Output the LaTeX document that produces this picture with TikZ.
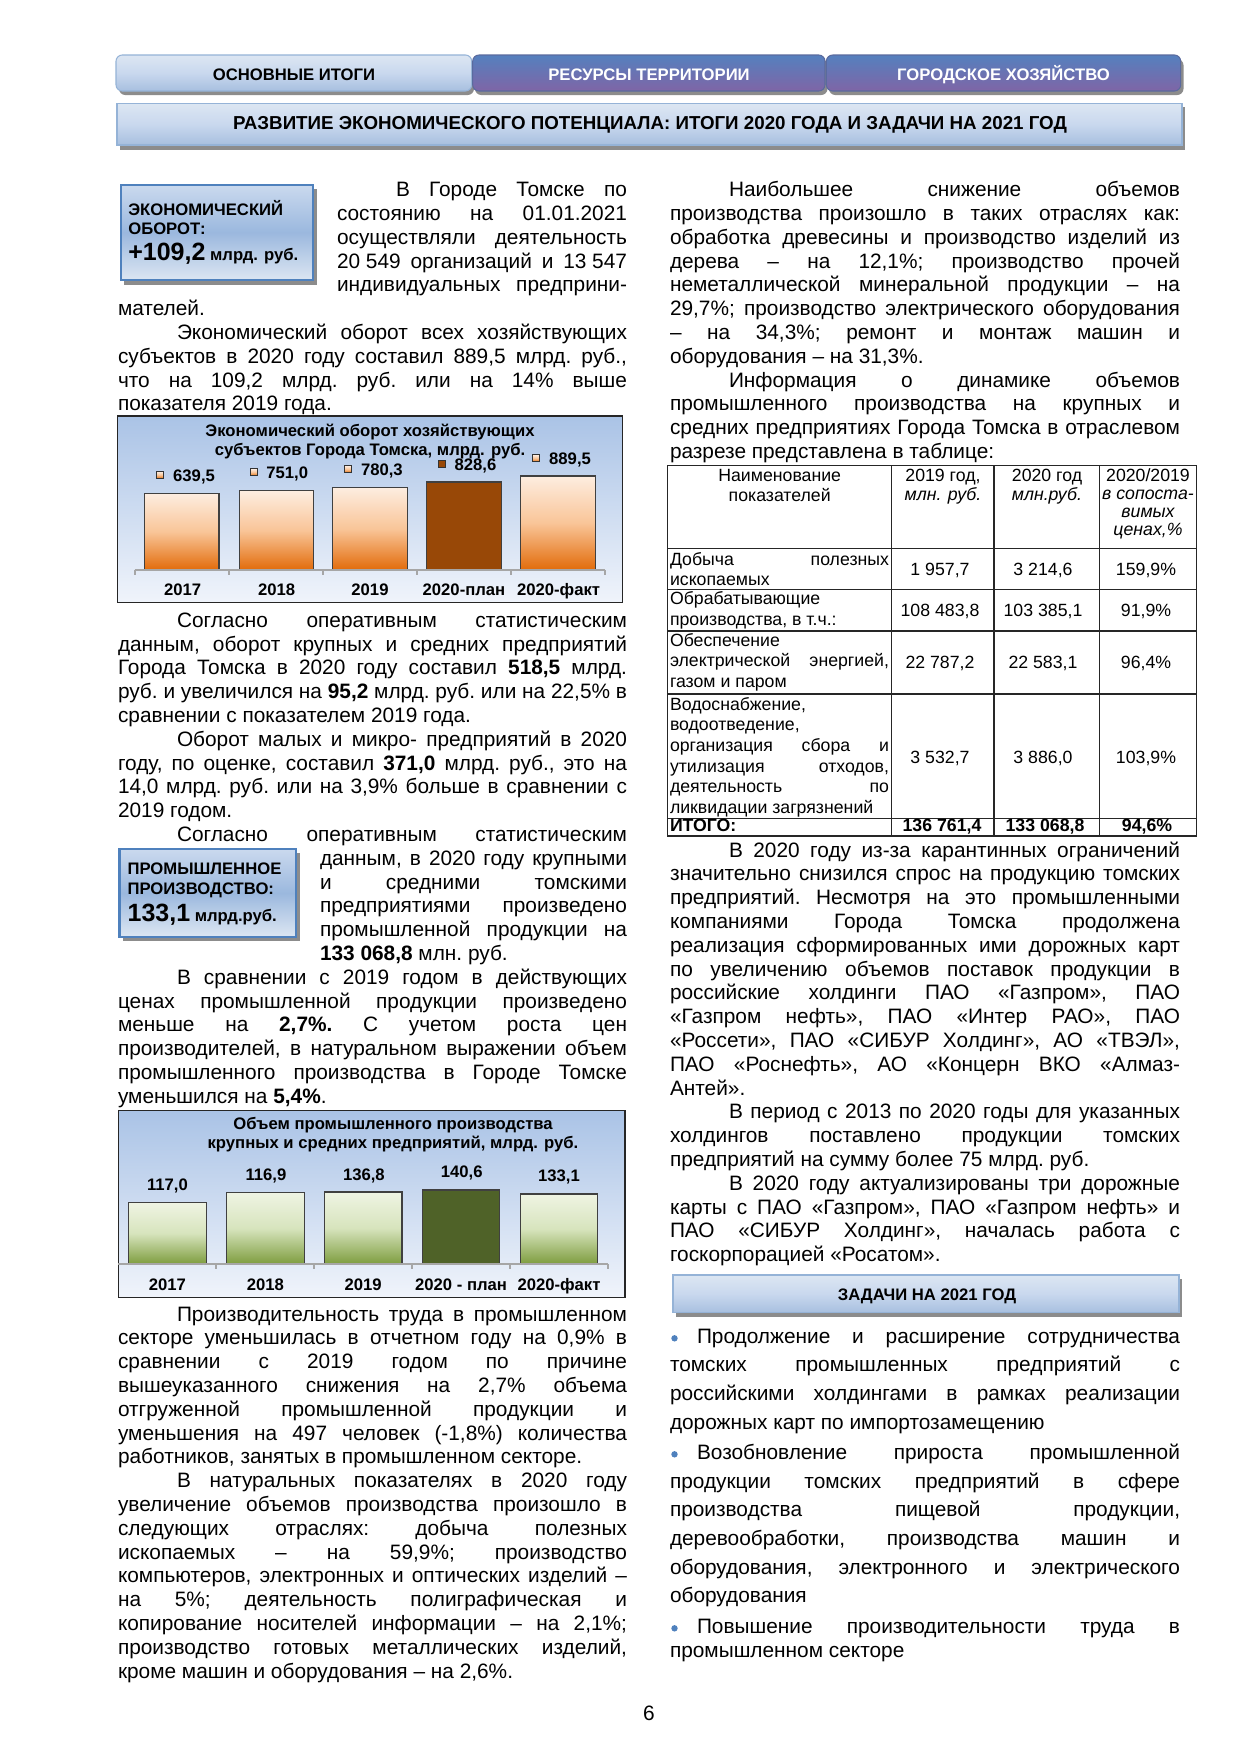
\documentclass[tikz,border=0pt]{standalone}
\usepackage{fontspec}
\setmainfont{Liberation Sans}
\newdimen\pxu \pxu=0.48pt
\newcommand\jline[1]{\hbox to\hsize{#1}}
\newcommand\eline[1]{\hbox to\hsize{#1\hfil}}
\newcommand\iline[1]{\hbox to\hsize{\hskip59\pxu\relax #1}}
\newcommand\ojline[2]{\hbox to\hsize{\hskip#1\pxu\relax #2}}
\newcommand\oeline[2]{\hbox to\hsize{\hskip#1\pxu\relax #2\hfil}}
\newcommand\tblock[3][23.8]{\vtop{\hsize=#2\pxu\relax\fontsize{10}{11.4}\selectfont\baselineskip=#1\pxu\relax\lineskiplimit=-\maxdimen\frenchspacing #3}}
\newcommand\cblock[2]{\vtop{\hsize=#1\pxu\relax\fontsize{8.5}{10}\selectfont\baselineskip=20.7\pxu\relax\lineskiplimit=-\maxdimen\frenchspacing #2}}
\definecolor{tabtop}{HTML}{5580BE}
\definecolor{tabbot}{HTML}{7F65A6}
\definecolor{tabedge}{HTML}{5A6A9E}
\definecolor{lbtop}{HTML}{DCE6F2}
\definecolor{lbmid}{HTML}{C9D8EE}
\definecolor{lbbot}{HTML}{A7BFDF}
\definecolor{lbedge}{HTML}{95B3D7}
\definecolor{shadowgrey}{HTML}{8C8C8C}
\definecolor{boxedge}{HTML}{4F81BD}
\definecolor{boxtop}{HTML}{CAD9EE}
\definecolor{boxmid}{HTML}{9BB8DE}
\definecolor{boxbot}{HTML}{DCE6F2}
\definecolor{chtop}{HTML}{AAC3E6}
\definecolor{chbot}{HTML}{F0F4FB}
\definecolor{ortop}{HTML}{FDEDE0}
\definecolor{ormid}{HTML}{F9C598}
\definecolor{orbot}{HTML}{E26B0A}
\definecolor{brownbar}{HTML}{984807}
\definecolor{grtop}{HTML}{EFF4E3}
\definecolor{grmid}{HTML}{D7E4BD}
\definecolor{grbot}{HTML}{7E9D3F}
\definecolor{olivebar}{HTML}{4F6228}
\definecolor{axisgrey}{HTML}{A6A6A6}
\definecolor{bulletblue}{HTML}{4F81BD}
\tikzset{
  lbl/.style={inner sep=0pt, outer sep=0pt},
  txt/.style={lbl, anchor=base west},
  chtxt/.style={lbl, anchor=base, font=\fontsize{8}{9.6}\selectfont\bfseries},
  chval/.style={lbl, anchor=base west, font=\fontsize{8}{9.6}\selectfont\bfseries},
  tabtxt/.style={lbl, anchor=base, font=\fontsize{8}{9.6}\selectfont\bfseries},
  celltxt/.style={lbl, anchor=base, font=\fontsize{8.5}{10}\selectfont},
  boxtxt/.style={lbl, anchor=base west, font=\fontsize{8}{9.6}\selectfont\bfseries},
  darktab/.style={draw=tabedge, line width=0.5pt, rounded corners=3pt, top color=tabtop, bottom color=tabbot},
  lighttab/.style={draw=lbedge, line width=0.5pt, rounded corners=3pt, top color=lbtop, bottom color=lbbot, middle color=lbmid},
  lightbar/.style={draw=lbedge, line width=0.5pt, top color=lbtop, bottom color=lbbot, middle color=lbmid},
  shadowbox/.style={fill=shadowgrey},
  infobox/.style={draw=boxedge, line width=1.1pt, top color=boxtop, bottom color=boxbot, middle color=boxmid},
  chartbg/.style={draw=black!85, line width=0.7pt, top color=chtop, bottom color=chbot},
  obar/.style={draw=black!75, line width=0.5pt, top color=ortop, bottom color=orbot, middle color=ormid},
  gbar/.style={draw=black!75, line width=0.5pt, top color=grtop, bottom color=grbot, middle color=grmid},
  omark/.style={draw=black!80, line width=0.4pt, top color=ortop, bottom color=orbot, middle color=ormid},
  axisline/.style={draw=axisgrey, line width=1pt},
  tline/.style={draw=black!85, line width=0.6pt}
}
\begin{document}
\begin{tikzpicture}[x=0.48pt,y=-0.48pt]
\path[fill=white,use as bounding box] (0,0) rectangle (1240,1754);

% ---------- tabs ----------
\path[shadowbox, rounded corners=3pt] (119,59) rectangle (474,95);
\path[shadowbox, rounded corners=3pt] (475,59) rectangle (827.5,95);
\path[shadowbox, rounded corners=3pt] (829,59) rectangle (1183.5,95);
\path[lighttab] (116,55) rectangle (471.7,91);
\path[darktab] (472.7,55) rectangle (825,91);
\path[darktab] (826.4,55) rectangle (1180.7,91);
\node[tabtxt] (tab1) at (294,80) {ОСНОВНЫЕ ИТОГИ};
\node[tabtxt, text=white] (tab2) at (649,80) {РЕСУРСЫ ТЕРРИТОРИИ};
\node[tabtxt, text=white] (tab3) at (1003.5,80) {ГОРОДСКОЕ ХОЗЯЙСТВО};

% ---------- title bar ----------
\path[shadowbox] (120,107) rectangle (1184.5,149.5);
\path[lightbar] (117,103.3) rectangle (1182,145);
\node[tabtxt, font=\fontsize{9}{10.8}\selectfont\bfseries] (title) at (650,129) {РАЗВИТИЕ ЭКОНОМИЧЕСКОГО ПОТЕНЦИАЛА: ИТОГИ 2020 ГОДА И ЗАДАЧИ НА 2021 ГОД};

% ---------- box 1 ----------
\path[shadowbox] (124,189) rectangle (316.5,284.5);
\path[infobox] (120.7,185) rectangle (312.7,280);
\node[boxtxt] (b1a) at (128.3,215) {ЭКОНОМИЧЕСКИЙ};
\node[boxtxt] (b1b) at (128.3,234.5) {ОБОРОТ:};
\node[boxtxt] (b1c) at (128.3,260.7) {{\fontsize{12}{14}\selectfont +109,2} млрд. руб.};

% ---------- left column text A ----------
\node[txt] (ta) at (118,196.7) {\tblock{509}{%
\ojline{278}{В Городе Томске по}
\ojline{219}{состоянию на 01.01.2021}
\ojline{219}{осуществляли деятельность}
\ojline{219}{\mbox{20 549} организаций и \mbox{13 547}}
\ojline{219}{индивидуальных предприни-}
\eline{мателей.}
\iline{Экономический оборот всех хозяйствующих}
\jline{субъектов в 2020 году составил 889,5 млрд. руб.,}
\jline{что на 109,2 млрд. руб. или на 14\% выше}
\eline{показателя 2019 года.}}};

% ---------- chart 1 ----------
\path[chartbg] (117.4,416) rectangle (622.5,602.7);
\node[chtxt] (c1t1) at (370,436.5) {Экономический оборот хозяйствующих};
\node[chtxt] (c1t2) at (370,455.5) {субъектов Города Томска, млрд. руб.};
\path[obar] (144.8,493.3) rectangle (219,570);
\path[obar] (239.3,490.7) rectangle (313.6,570);
\path[obar] (332.8,487.7) rectangle (407.8,570);
\path[draw=black!75, line width=0.5pt, fill=brownbar] (426.7,482) rectangle (501.6,570);
\path[obar] (520.5,476) rectangle (595.5,570);
\draw[axisline] (134.6,570) -- (605.3,570);
\foreach \tx in {134.6,228.8,322.7,416.9,510.7,605.3} \draw[axisline] (\tx,570) -- (\tx,574.5);
\path[omark] (156.5,471.5) rectangle (163.5,478.5);
\path[omark] (250.8,468.8) rectangle (257.8,475.8);
\path[omark] (344.7,465.8) rectangle (351.7,472.8);
\path[draw=black!80, line width=0.4pt, fill=brownbar] (438.6,460.5) rectangle (445.6,467.5);
\path[omark] (532.9,454.8) rectangle (539.9,461.8);
\node[chval] (v11) at (173.2,481) {639,5};
\node[chval] (v12) at (266.4,478.3) {751,0};
\node[chval] (v13) at (361,475.3) {780,3};
\node[chval] (v14) at (454.6,470) {828,6};
\node[chval] (v15) at (549.2,464.3) {889,5};
\node[chtxt] (k11) at (182.6,595) {2017};
\node[chtxt] (k12) at (276.6,595) {2018};
\node[chtxt] (k13) at (370,595) {2019};
\node[chtxt] (k14) at (464,595) {2020-план};
\node[chtxt] (k15) at (558.6,595) {2020-факт};

% ---------- left column text B ----------
\node[txt] (tb) at (118,627.3) {\tblock{509}{%
\iline{Согласно оперативным статистическим}
\jline{данным, оборот крупных и средних предприятий}
\jline{Города Томска в 2020 году составил \textbf{518,5} млрд.}
\jline{руб. и увеличился на \textbf{95,2} млрд. руб. или на 22,5\% в}
\eline{сравнении с показателем 2019 года.}
\iline{Оборот малых и микро- предприятий в 2020}
\jline{году, по оценке, составил \textbf{371,0} млрд. руб., это на}
\jline{14,0 млрд. руб. или на 3,9\% больше в сравнении с}
\eline{2019 годом.}
\iline{Согласно оперативным статистическим}
\ojline{202}{данным, в 2020 году крупными}
\ojline{202}{и средними томскими}
\ojline{202}{предприятиями произведено}
\ojline{202}{промышленной продукции на}
\oeline{202}{\textbf{133 068,8} млн. руб.}
\iline{В сравнении с 2019 годом в действующих}
\jline{ценах промышленной продукции произведено}
\jline{меньше на \textbf{2,7\%.} С учетом роста цен}
\jline{производителей, в натуральном выражении объем}
\jline{промышленного производства в Городе Томске}
\eline{уменьшился на \textbf{5,4\%}.}}};

% ---------- box 2 ----------
\path[shadowbox] (123,853.3) rectangle (299.5,941);
\path[infobox] (119.5,849.3) rectangle (295.8,936.7);
\node[boxtxt] (b2a) at (127.6,874) {ПРОМЫШЛЕННОЕ};
\node[boxtxt] (b2b) at (127.6,894) {ПРОИЗВОДСТВО:};
\node[boxtxt] (b2c) at (127.6,921.7) {{\fontsize{12}{14}\selectfont 133,1} млрд.руб.};

% ---------- chart 2 ----------
\path[chartbg] (118.4,1110.7) rectangle (625,1297.3);
\node[chtxt] (c2t1) at (393,1129.5) {Объем промышленного производства};
\node[chtxt] (c2t2) at (393,1148.5) {крупных и средних предприятий, млрд. руб.};
\path[gbar] (128.6,1202.7) rectangle (206.2,1264);
\path[gbar] (226.5,1192.7) rectangle (304.1,1264);
\path[gbar] (324.4,1192) rectangle (402,1264);
\path[draw=black!75, line width=0.5pt, fill=olivebar] (422.3,1190) rectangle (499.9,1264);
\path[gbar] (520.2,1194) rectangle (597.8,1264);
\draw[axisline] (118.4,1264) -- (608,1264);
\foreach \tx in {216.3,314.3,412.2,510.1,608} \draw[axisline] (\tx,1264) -- (\tx,1268.5);
\node[chtxt] (v21) at (167.4,1190.3) {117,0};
\node[chtxt] (v22) at (266,1180.3) {116,9};
\node[chtxt] (v23) at (363.9,1180.3) {136,8};
\node[chtxt] (v24) at (461.8,1177.7) {140,6};
\node[chtxt] (v25) at (559,1181.7) {133,1};
\node[chtxt] (k21) at (167.4,1290) {2017};
\node[chtxt] (k22) at (265.3,1290) {2018};
\node[chtxt] (k23) at (363.2,1290) {2019};
\node[chtxt] (k24) at (461.1,1290) {2020 - план};
\node[chtxt] (k25) at (559,1290) {2020-факт};

% ---------- left column text C ----------
\node[txt] (tc) at (118,1321) {\tblock{509}{%
\iline{Производительность труда в промышленном}
\jline{секторе уменьшилась в отчетном году на 0,9\% в}
\jline{сравнении с 2019 годом по причине}
\jline{вышеуказанного снижения на 2,7\% объема}
\jline{отгруженной промышленной продукции и}
\jline{уменьшения на 497 человек (-1,8\%) количества}
\eline{работников, занятых в промышленном секторе.}
\iline{В натуральных показателях в 2020 году}
\jline{увеличение объемов производства произошло в}
\jline{следующих отраслях: добыча полезных}
\jline{ископаемых – на 59,9\%; производство}
\jline{компьютеров, электронных и оптических изделий –}
\jline{на 5\%; деятельность полиграфическая и}
\jline{копирование носителей информации – на 2,1\%;}
\jline{производство готовых металлических изделий,}
\eline{кроме машин и оборудования – на 2,6\%.}}};

% ---------- right column text D ----------
\node[txt] (td) at (670,196.7) {\tblock{510}{%
\iline{Наибольшее снижение объемов}
\jline{производства произошло в таких отраслях как:}
\jline{обработка древесины и производство изделий из}
\jline{дерева – на 12,1\%; производство прочей}
\jline{неметаллической минеральной продукции – на}
\jline{29,7\%; производство электрического оборудования}
\jline{– на 34,3\%; ремонт и монтаж машин и}
\eline{оборудования – на 31,3\%.}
\iline{Информация о динамике объемов}
\jline{промышленного производства на крупных и}
\jline{средних предприятиях Города Томска в отраслевом}
\eline{разрезе представлена в таблице:}}};

% ---------- table ----------
\draw[tline] (667.7,465.7) rectangle (1196.7,836);
\foreach \ty in {548.3,589.3,631,694,818.5} \draw[tline] (667.7,\ty) -- (1196.7,\ty);
\foreach \tx in {891.7,994,1099.3} \draw[tline] (\tx,465.7) -- (\tx,836);
\node[celltxt] (h1a) at (779.7,481.7) {Наименование};
\node[celltxt] (h1b) at (779.7,501.2) {показателей};
\node[celltxt] (h2a) at (943,481.7) {2019 год,};
\node[celltxt] (h2b) at (943,500.5) {\itshape млн. руб.};
\node[celltxt] (h3a) at (1047,481.7) {2020 год};
\node[celltxt] (h3b) at (1047,500.5) {\itshape млн.руб.};
\node[celltxt] (h4a) at (1148,481.7) {2020/2019};
\node[celltxt] (h4b) at (1148,499.5) {\itshape в сопоста-};
\node[celltxt] (h4c) at (1148,517.5) {\itshape вимых};
\node[celltxt] (h4d) at (1148,535.5) {\itshape ценах,\%};
\node[txt] (r1) at (670,565) {\cblock{219}{\jline{Добыча полезных}\eline{ископаемых}}};
\node[txt] (r2) at (670,604.5) {\cblock{219}{\eline{Обрабатывающие}\eline{производства, в т.ч.:}}};
\node[txt] (r3) at (670,646) {\cblock{219}{\eline{Обеспечение}\jline{электрической энергией,}\eline{газом и паром}}};
\node[txt] (r4) at (670,710) {\cblock{219}{\eline{Водоснабжение,}\eline{водоотведение,}\jline{организация сбора и}\jline{утилизация отходов,}\jline{деятельность по}\eline{ликвидации загрязнений}}};
\node[txt, font=\fontsize{8.5}{10}\selectfont\bfseries] (r5) at (670,831.5) {ИТОГО:};
\node[celltxt] (r1b) at (940,575) {1 957,7};
\node[celltxt] (r1c) at (1043,575) {3 214,6};
\node[celltxt] (r1d) at (1146,575) {159,9\%};
\node[celltxt] (r2b) at (940,616) {108 483,8};
\node[celltxt] (r2c) at (1043,616) {103 385,1};
\node[celltxt] (r2d) at (1146,616) {91,9\%};
\node[celltxt] (r3b) at (940,668) {22 787,2};
\node[celltxt] (r3c) at (1043,668) {22 583,1};
\node[celltxt] (r3d) at (1146,668) {96,4\%};
\node[celltxt] (r4b) at (940,763) {3 532,7};
\node[celltxt] (r4c) at (1043,763) {3 886,0};
\node[celltxt] (r4d) at (1146,763) {103,9\%};
\node[celltxt, font=\fontsize{8.5}{10}\selectfont\bfseries] (r5b) at (942,831.5) {136 761,4};
\node[celltxt, font=\fontsize{8.5}{10}\selectfont\bfseries] (r5c) at (1045,831.5) {133 068,8};
\node[celltxt, font=\fontsize{8.5}{10}\selectfont\bfseries] (r5d) at (1147,831.5) {94,6\%};

% ---------- right column text E ----------
\node[txt] (te) at (670,857) {\tblock{510}{%
\iline{В 2020 году из-за карантинных ограничений}
\jline{значительно снизился спрос на продукцию томских}
\jline{предприятий. Несмотря на это промышленными}
\jline{компаниями Города Томска продолжена}
\jline{реализация сформированных ими дорожных карт}
\jline{по увеличению объемов поставок продукции в}
\jline{российские холдинги ПАО «Газпром», ПАО}
\jline{«Газпром нефть», ПАО «Интер РАО», ПАО}
\jline{«Россети», ПАО «СИБУР Холдинг», АО «ТВЭЛ»,}
\jline{ПАО «Роснефть», АО «Концерн ВКО «Алмаз-}
\eline{Антей».}
\iline{В период с 2013 по 2020 годы для указанных}
\jline{холдингов поставлено продукции томских}
\eline{предприятий на сумму более 75 млрд. руб.}
\iline{В 2020 году актуализированы три дорожные}
\jline{карты с ПАО «Газпром», ПАО «Газпром нефть» и}
\jline{ПАО «СИБУР Холдинг», началась работа с}
\eline{госкорпорацией «Росатом».}}};

% ---------- tasks bar ----------
\path[shadowbox] (676,1279) rectangle (1182,1317);
\path[lightbar] (673,1275) rectangle (1179,1312.7);
\node[tabtxt] (tasks) at (927,1300) {ЗАДАЧИ НА 2021 ГОД};

% ---------- bullets ----------
\fill[bulletblue] (674.5,1338.3) circle (3.2);
\fill[bulletblue] (674.5,1454.3) circle (3.2);
\fill[bulletblue] (674.5,1628.3) circle (3.2);
\node[txt] (f1) at (670,1343.3) {\tblock[28.6]{510}{%
\ojline{27}{Продолжение и расширение сотрудничества}
\jline{томских промышленных предприятий с}
\jline{российскими холдингами в рамках реализации}
\eline{дорожных карт по импортозамещению}}};
\node[txt] (f2) at (670,1459.3) {\tblock[28.7]{510}{%
\ojline{27}{Возобновление прироста промышленной}
\jline{продукции томских предприятий в сфере}
\jline{производства пищевой продукции,}
\jline{деревообработки, производства машин и}
\jline{оборудования, электронного и электрического}
\eline{оборудования}}};
\node[txt] (f3) at (670,1633.3) {\tblock[24]{510}{%
\ojline{27}{Повышение производительности труда в}
\eline{промышленном секторе}}};

% ---------- page number ----------
\node[lbl, anchor=base, font=\fontsize{10}{12}\selectfont] (pnum) at (649,1720) {6};
\end{tikzpicture}
\end{document}
